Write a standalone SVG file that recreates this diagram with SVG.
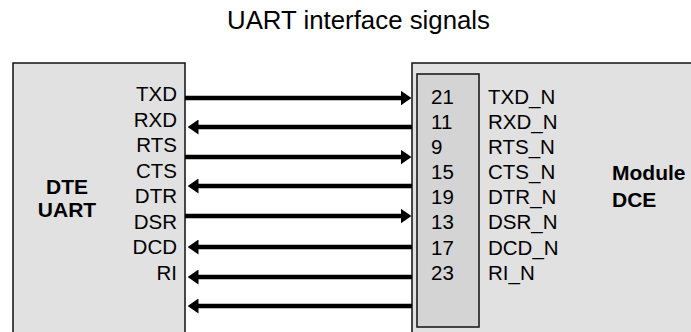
<svg xmlns="http://www.w3.org/2000/svg" width="691" height="332" viewBox="0 0 691 332">
<style>
.t{font-family:"Liberation Sans",Arial,sans-serif;font-size:20.5px;fill:#000}
.b{font-weight:bold;font-size:21px}
.title{font-size:25px}
.box{fill:#e1e1e1;stroke:#111;stroke-width:1.5}
.pin{fill:#d4d4d4;stroke:#111;stroke-width:1.5}
.w{stroke:#000;stroke-width:4.5;fill:none;marker-end:url(#ah)}
</style>
<defs>
<marker id="ah" viewBox="0 0 11 15" markerWidth="11" markerHeight="15" markerUnits="userSpaceOnUse" refX="0.5" refY="7.5" orient="auto">
<path d="M0,0 L11,7.5 L0,15 z" fill="#000"/>
</marker>
</defs>
<rect width="691" height="332" fill="#fff"/>
<text class="t title" x="358.5" y="29" text-anchor="middle" textLength="263" lengthAdjust="spacingAndGlyphs">UART interface signals</text>
<g id="dte">
<rect class="box" x="13" y="63" width="172" height="280"/>
<text class="t b" x="67" y="194" text-anchor="middle">DTE</text>
<text class="t b" x="67" y="217" text-anchor="middle">UART</text>
<g text-anchor="end">
<text class="t" x="177" y="101">TXD</text>
<text class="t" x="177" y="126.5">RXD</text>
<text class="t" x="177" y="152">RTS</text>
<text class="t" x="177" y="177.5">CTS</text>
<text class="t" x="177" y="203">DTR</text>
<text class="t" x="177" y="228.5">DSR</text>
<text class="t" x="177" y="254">DCD</text>
<text class="t" x="177" y="279.5">RI</text>
</g>
</g>
<g id="dce">
<rect class="box" x="412" y="63" width="290" height="280"/>
<rect class="pin" x="417" y="74" width="62" height="253"/>
<text class="t b" x="612" y="180">Module</text>
<text class="t b" x="612" y="207">DCE</text>
<text class="t" x="431" y="104">21</text>
<text class="t" x="431" y="129">11</text>
<text class="t" x="431" y="154">9</text>
<text class="t" x="431" y="179">15</text>
<text class="t" x="431" y="204.3">19</text>
<text class="t" x="431" y="229.3">13</text>
<text class="t" x="431" y="255">17</text>
<text class="t" x="431" y="280">23</text>
<text class="t" x="488" y="104">TXD_N</text>
<text class="t" x="488" y="129">RXD_N</text>
<text class="t" x="488" y="154">RTS_N</text>
<text class="t" x="488" y="179">CTS_N</text>
<text class="t" x="488" y="204.3">DTR_N</text>
<text class="t" x="488" y="229.3">DSR_N</text>
<text class="t" x="488" y="255">DCD_N</text>
<text class="t" x="488" y="280">RI_N</text>
</g>
<g id="connectors">
<line class="w" x1="185" y1="98" x2="401" y2="98"/>
<line class="w" x1="412" y1="127" x2="198" y2="127"/>
<line class="w" x1="185" y1="157" x2="401" y2="157"/>
<line class="w" x1="412" y1="186" x2="198" y2="186"/>
<line class="w" x1="185" y1="216" x2="401" y2="216"/>
<line class="w" x1="412" y1="247" x2="198" y2="247"/>
<line class="w" x1="412" y1="277" x2="198" y2="277"/>
<line class="w" x1="412" y1="306" x2="198" y2="306"/>
</g>
</svg>
